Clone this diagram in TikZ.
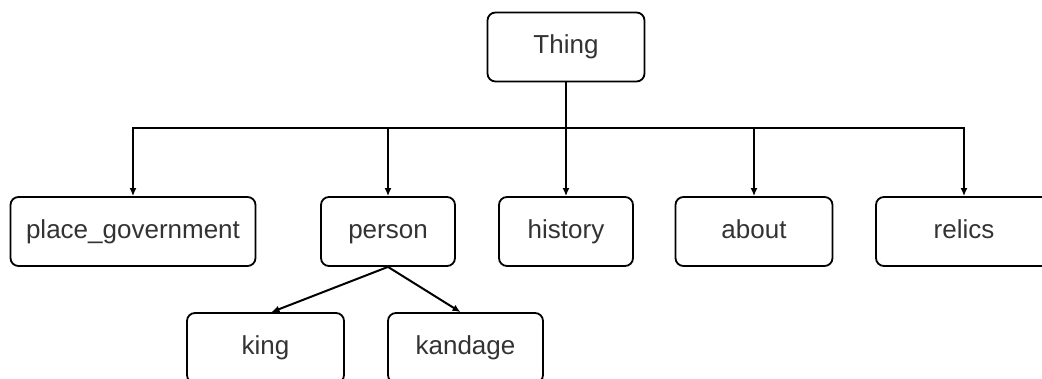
\documentclass[tikz,border=0pt]{standalone}
\usepackage{fontspec}
\setmainfont{Liberation Sans}
\usetikzlibrary{arrows.meta}
\begin{document}
\begin{tikzpicture}[x=1pt,y=-1pt,
  box/.style={draw=black, line width=1.8pt, rounded corners=8pt, fill=white,
    minimum height=69pt, inner sep=0pt, text=black!80,
    text height=19pt, text depth=5.5pt,
    font=\fontsize{26}{30}\selectfont},
  arr/.style={draw=black, line width=2pt, -{Latex[length=8pt,width=7pt]}},
  ln/.style={draw=black, line width=2pt}]
\clip (0,0) rectangle (1042,379);
\fill[white] (0,0) rectangle (1042,379);
\node[box, minimum width=157pt] (thing) at (566,47) {Thing};
\node[box, minimum width=245pt] (pg) at (133,231.5) {place\_government};
\node[box, minimum width=134pt] (person) at (388,231.5) {person};
\node[box, minimum width=134pt] (history) at (566,231.5) {history};
\node[box, minimum width=157pt] (about) at (754,231.5) {about};
\node[box, minimum width=176pt] (relics) at (964,231.5) {relics};
\node[box, minimum width=157pt, minimum height=70pt] (king) at (265.5,348) {king};
\node[box, minimum width=155pt, minimum height=70pt] (kandage) at (465.5,348) {kandage};
\coordinate (bus) at (566,128);
\draw[ln] (thing.south) -- (thing.south |- bus);
\draw[arr] (thing.south |- bus) -| (pg.north);
\draw[arr] (thing.south |- bus) -| (person.north);
\draw[arr] (thing.south) -- (history.north);
\draw[arr] (thing.south |- bus) -| (about.north);
\draw[arr] (thing.south |- bus) -| (relics.north);
\draw[arr] (person.south) -- ([xshift=6pt]king.north);
\draw[arr] (person.south) -- ([xshift=-5pt]kandage.north);
\end{tikzpicture}
\end{document}
